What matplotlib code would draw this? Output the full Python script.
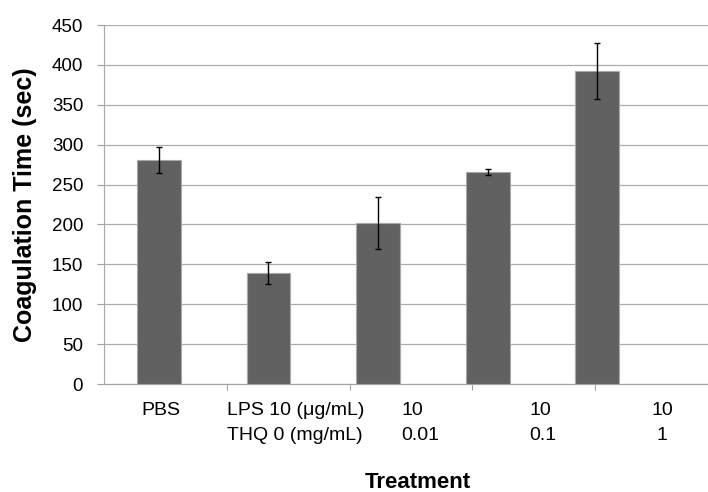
import matplotlib.pyplot as plt
import matplotlib.transforms as mtransforms
import numpy as np

plt.rcParams['font.family'] = ['Liberation Sans', 'DejaVu Sans']

# data
groups = ['PBS', 'LPS 10 / THQ 0', 'LPS 10 / THQ 0.01', 'LPS 10 / THQ 0.1', 'LPS 10 / THQ 1']
coag_time = [281, 139, 202, 266, 392]
coag_err = [16, 14, 33, 3.5, 35]

# text under the axis (line 1, line 2)
label_top = ['PBS', 'LPS 10 (\u03bcg/mL)', '10', '10', '10']
label_bottom = ['', 'THQ 0 (mg/mL)', '0.01', '0.1', '1']
label_x = [0.02, 0.62, 2.21, 3.38, 4.59]
label_ha = ['center', 'left', 'left', 'left', 'center']

fig = plt.figure(figsize=(7.08, 4.92), dpi=100)
ax = fig.add_axes([0.147, 0.2195, 0.853, 0.7295])

x = np.arange(len(groups))
ax.bar(x, coag_time, width=0.4, color='#616161', edgecolor='#a8a8a8', linewidth=0.8, zorder=3)
ax.errorbar(x, coag_time, yerr=coag_err, fmt='none', ecolor='black', elinewidth=1.0,
            capsize=2.5, capthick=1.0, zorder=4)

ax.set_xlim(-0.5, 5.01)
ax.set_ylim(0, 450)
ax.set_yticks(range(0, 451, 50))
ax.yaxis.grid(True, color='#ababab', linewidth=0.9)
ax.set_axisbelow(True)

# tick marks on the category axis (they don't line up with the bars in the original)
ax.set_xticks([-0.5 + 1.12 * k for k in range(1, 5)])
ax.set_xticklabels([])
ax.tick_params(axis='x', length=4, color='#a0a0a0', width=0.8)
ax.tick_params(axis='y', length=5, color='#a0a0a0', width=0.8, labelsize=13.5, pad=10)

for side in ['top', 'right']:
    ax.spines[side].set_visible(False)
ax.spines['left'].set_color('#a8a8a8')
ax.spines['bottom'].set_color('#a0a0a0')

trans = mtransforms.blended_transform_factory(ax.transData, fig.transFigure)
for xi, top, bot, ha in zip(label_x, label_top, label_bottom, label_ha):
    ax.text(xi, 1 - 410.5 / 492, top, transform=trans, ha=ha, va='center', fontsize=14)
    if bot:
        ax.text(xi, 1 - 435.5 / 492, bot, transform=trans, ha=ha, va='center', fontsize=14)

fig.text(418 / 708, 1 - 482 / 492, 'Treatment', ha='center', va='center',
         fontsize=16, fontweight='bold')
fig.text(25 / 708, 1 - 205 / 492, 'Coagulation Time (sec)', ha='center', va='center',
         rotation=90, fontsize=18, fontweight='bold')

fig.savefig('out.png', dpi=100)
plt.close()
